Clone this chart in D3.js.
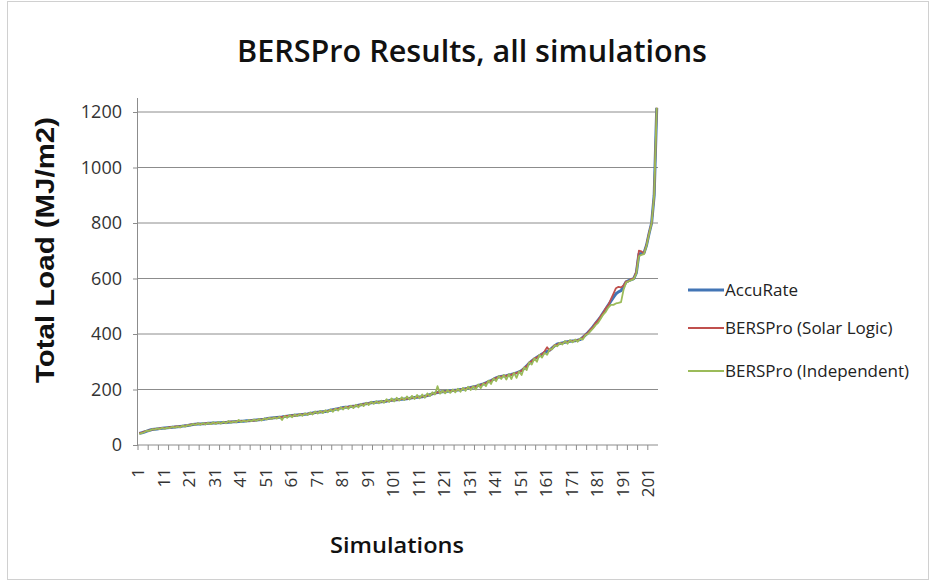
<!DOCTYPE html>
<html>
<head>
<meta charset="utf-8">
<script src="https://cdn.jsdelivr.net/npm/d3@7.9.0/dist/d3.min.js"></script>
<style>
  body { margin: 0; background: #fff; }
  svg { display: block; }
  .calib { font-family: "Open Sans", sans-serif; }
</style>
</head>
<body>
<svg id="chart" width="930" height="582"></svg>
<script>
// simulation numbers 1..204 and the labels shown on the x axis
const simulations = d3.range(1, 205);
const xTickLabels = [1, 11, 21, 31, 41, 51, 61, 71, 81, 91, 101, 111, 121, 131, 141, 151, 161, 171, 181, 191, 201];
const yTicks = [0, 200, 400, 600, 800, 1000, 1200];

// total load (MJ/m2)
const accuRate = [
  42, 44, 47, 50, 53, 56, 57, 58, 59, 60,
  61, 62, 63, 64, 65, 66, 67, 68, 69, 70,
  72, 74, 75, 76, 76, 77, 77, 78, 78, 79,
  79, 80, 80, 81, 81, 82, 83, 84, 84, 85,
  86, 86, 87, 87, 88, 89, 90, 91, 92, 93,
  95, 96, 97, 98, 99, 100, 101, 103, 104, 105,
  106, 107, 108, 109, 110, 111, 112, 114, 115, 117,
  118, 119, 120, 121, 123, 125, 127, 129, 131, 133,
  135, 136, 137, 139, 140, 141, 143, 145, 147, 149,
  150, 152, 153, 154, 155, 156, 157, 158, 160, 161,
  162, 163, 164, 165, 166, 167, 168, 170, 171, 172,
  173, 174, 176, 178, 181, 184, 187, 189, 191, 192,
  193, 194, 195, 196, 197, 198, 200, 201, 203, 205,
  207, 209, 211, 214, 217, 220, 224, 228, 232, 237,
  242, 245, 247, 249, 250, 252, 254, 257, 260, 263,
  268, 276, 285, 295, 303, 310, 316, 322, 328, 333,
  337, 342, 350, 358, 364, 366, 368, 370, 372, 374,
  375, 376, 378, 380, 388, 396, 405, 415, 426, 438,
  450, 462, 476, 490, 504, 518, 532, 545, 552, 556,
  572, 588, 592, 596, 600, 620, 688, 690, 692, 720,
  762, 800, 900, 1215
];
const solarLogic = [
  43, 45, 48, 51, 53, 55, 57, 58, 60, 61,
  61, 62, 64, 64, 66, 67, 66, 68, 70, 71,
  73, 74, 74, 77, 76, 76, 78, 79, 77, 79,
  80, 80, 79, 82, 81, 83, 84, 83, 85, 86,
  86, 87, 86, 88, 89, 88, 90, 92, 91, 94,
  95, 97, 96, 99, 98, 101, 100, 103, 105, 104,
  107, 106, 108, 110, 109, 112, 111, 115, 114, 118,
  117, 120, 119, 122, 122, 126, 126, 130, 130, 134,
  134, 137, 136, 140, 139, 142, 142, 146, 146, 150,
  149, 153, 152, 155, 154, 157, 156, 159, 159, 162,
  161, 164, 163, 166, 165, 168, 167, 171, 170, 173,
  172, 175, 175, 179, 180, 185, 186, 190, 190, 193,
  192, 195, 194, 197, 196, 199, 199, 202, 202, 206,
  206, 210, 210, 215, 216, 221, 223, 229, 231, 238,
  241, 246, 246, 250, 249, 253, 253, 258, 259, 264,
  267, 278, 284, 297, 302, 312, 315, 324, 327, 338,
  352, 340, 349, 360, 362, 367, 366, 371, 371, 375,
  374, 377, 377, 382, 387, 398, 404, 417, 425, 440,
  449, 464, 475, 493, 503, 525, 545, 565, 570, 568,
  575, 590, 590, 598, 600, 625, 700, 698, 690, 722,
  765, 800, 900, 1215
];
const independent = [
  40, 43, 46, 52, 51, 57, 55, 60, 57, 62,
  58, 63, 61, 66, 62, 67, 63, 70, 66, 72,
  70, 76, 72, 78, 73, 79, 74, 80, 75, 82,
  76, 83, 77, 84, 78, 87, 80, 85, 82, 90,
  83, 88, 84, 90, 86, 92, 87, 94, 88, 96,
  92, 98, 94, 100, 95, 102, 90, 105, 98, 108,
  100, 110, 104, 112, 105, 114, 108, 117, 110, 121,
  113, 123, 115, 125, 118, 128, 120, 131, 124, 136,
  128, 138, 130, 142, 133, 145, 136, 148, 140, 152,
  144, 156, 148, 158, 150, 160, 152, 165, 155, 168,
  157, 170, 160, 172, 162, 175, 164, 177, 166, 180,
  168, 182, 170, 186, 176, 190, 182, 212, 185, 196,
  186, 198, 188, 200, 190, 203, 192, 206, 195, 210,
  198, 212, 200, 218, 205, 222, 212, 232, 220, 240,
  230, 248, 238, 252, 236, 255, 238, 260, 242, 265,
  252, 280, 270, 298, 290, 312, 300, 325, 315, 332,
  325, 345, 345, 360, 356, 368, 362, 375, 365, 378,
  370, 380, 372, 384, 380, 395, 400, 410, 420, 432,
  440, 455, 470, 480, 495, 505, 505, 510, 512, 515,
  560, 585, 590, 594, 598, 618, 680, 685, 688, 718,
  760, 800, 900, 1215
];

const series = [
  { name: 'AccuRate', values: accuRate, color: '#4275b5', width: 3 },
  { name: 'BERSPro (Solar Logic)', values: solarLogic, color: '#c0504d', width: 1.8 },
  { name: 'BERSPro (Independent)', values: independent, color: '#9bbb59', width: 1.8 }
];

const svg = d3.select('#chart');
const plot = { left: 138, right: 658, top: 112, bottom: 445 };

// light frame round the whole chart
svg.append('rect')
  .attr('x', 7.5).attr('y', 1.5).attr('width', 921).attr('height', 578)
  .attr('fill', 'none').attr('stroke', '#d0d0d0');

const x = d3.scaleBand().domain(simulations).range([plot.left, plot.right]);
const y = d3.scaleLinear().domain([0, 1200]).range([plot.bottom, plot.top]);

// gridlines
svg.append('g').selectAll('line')
  .data(yTicks.filter(d => d > 0))
  .join('line')
  .attr('x1', plot.left).attr('x2', plot.right)
  .attr('y1', d => y(d)).attr('y2', d => y(d))
  .attr('stroke', '#8c8c8c').attr('stroke-width', 1);

// y axis
const yAxis = svg.append('g')
  .attr('transform', `translate(${plot.left},0)`)
  .call(d3.axisLeft(y).tickValues(yTicks).tickFormat(d3.format('d')).tickSize(5).tickPadding(11));
yAxis.select('.domain').attr('stroke', '#8c8c8c').attr('d', `M-0.5,${plot.top - 14}V${plot.bottom}`);
yAxis.selectAll('.tick line').attr('stroke', '#8c8c8c');
yAxis.selectAll('.tick text')
  .attr('class', 'calib')
  .attr('font-size', 18).attr('fill', '#333');

// x axis line with small ticks every 4 simulations
svg.append('line')
  .attr('x1', plot.left).attr('x2', plot.right)
  .attr('y1', plot.bottom).attr('y2', plot.bottom)
  .attr('stroke', '#8c8c8c');
svg.append('g').selectAll('line')
  .data(simulations.filter(d => (d - 1) % 4 === 0))
  .join('line')
  .attr('x1', d => x(d)).attr('x2', d => x(d))
  .attr('y1', plot.bottom).attr('y2', plot.bottom + 5)
  .attr('stroke', '#8c8c8c');

svg.append('g').selectAll('text')
  .data(xTickLabels)
  .join('text')
  .attr('class', 'calib')
  .attr('transform', d => `translate(${x(d) + x.bandwidth() / 2 + 5},468) rotate(-90)`)
  .attr('text-anchor', 'end')
  .attr('font-size', 17).attr('fill', '#333')
  .text(d => d);

// lines
const line = d3.line()
  .x((d, i) => x(simulations[i]) + x.bandwidth() / 2)
  .y(d => y(d));

svg.append('g').selectAll('path')
  .data(series)
  .join('path')
  .attr('d', d => line(d.values))
  .attr('fill', 'none')
  .attr('stroke', d => d.color)
  .attr('stroke-width', d => d.width)
  .attr('stroke-linejoin', 'round');

// titles
svg.append('text')
  .attr('x', 472).attr('y', 62)
  .attr('text-anchor', 'middle')
  .attr('font-family', '"Open Sans", sans-serif')
  .attr('font-weight', 600)
  .attr('font-size', 31)
  .attr('textLength', 470).attr('lengthAdjust', 'spacingAndGlyphs')
  .attr('fill', '#111')
  .text('BERSPro Results, all simulations');

svg.append('text')
  .attr('transform', 'translate(54,250) rotate(-90)')
  .attr('text-anchor', 'middle')
  .attr('font-family', '"Liberation Sans", Arial, sans-serif')
  .attr('font-weight', 'bold')
  .attr('font-size', 26)
  .attr('textLength', 266).attr('lengthAdjust', 'spacingAndGlyphs')
  .attr('fill', '#111')
  .text('Total Load (MJ/m2)');

svg.append('text')
  .attr('x', 397).attr('y', 553)
  .attr('text-anchor', 'middle')
  .attr('font-family', '"Open Sans", sans-serif')
  .attr('font-weight', 600)
  .attr('font-size', 22)
  .attr('textLength', 134).attr('lengthAdjust', 'spacingAndGlyphs')
  .attr('fill', '#111')
  .text('Simulations');

// legend
const legend = svg.append('g').selectAll('g')
  .data(series)
  .join('g')
  .attr('transform', (d, i) => `translate(688,${[290, 328, 371][i]})`);
legend.append('line')
  .attr('x1', 0).attr('x2', 36)
  .attr('stroke', d => d.color)
  .attr('stroke-width', d => d.width);
legend.append('text')
  .attr('class', 'calib')
  .attr('x', 37).attr('y', 6)
  .attr('font-size', 17).attr('fill', '#222')
  .text(d => d.name);
</script>
</body>
</html>
